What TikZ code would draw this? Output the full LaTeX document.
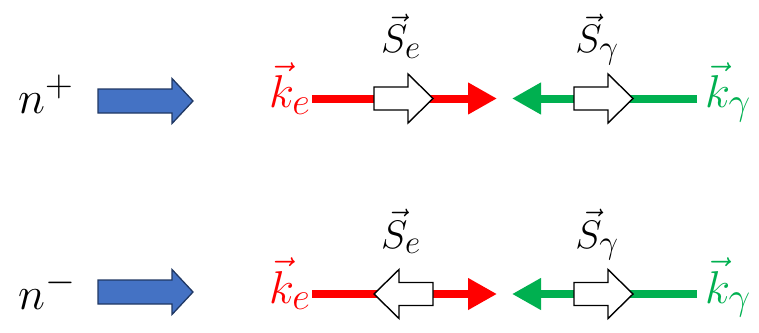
\documentclass[tikz,border=0pt]{standalone}
\usepackage{graphicx}
\usetikzlibrary{arrows.meta}
\definecolor{kred}{HTML}{FF0000}
\definecolor{kgreen}{HTML}{00B050}
\definecolor{nblue}{HTML}{4472C4}
\definecolor{nedge}{HTML}{203864}
\newcommand\smath[1]{\scalebox{1.6}{\Huge$#1$}}
\newcommand\kmath[1]{\scalebox{1.85}{\Huge$#1$}}
\newcommand\hugemath[1]{\scalebox{1.85}{\Huge$#1$}}
\begin{document}
\begin{tikzpicture}[x=1pt,y=-1pt,
  lbl/.style={inner sep=0pt},
  kline/.style={line width=8pt,-{Triangle[length=29pt,width=30pt]}},
  spin/.pic={\draw[line width=1.4pt,fill=white] (0,-11.5)--(34,-11.5)--(34,-24.5)--(59,0)--(34,24.5)--(34,11.5)--(0,11.5)--cycle;},
  bluearr/.pic={\draw[line width=1.3pt,draw=nedge,fill=nblue] (0,-12)--(74,-12)--(74,-22.5)--(95,0)--(74,22.5)--(74,12)--(0,12)--cycle;}
]
\useasboundingbox (0,0) rectangle (759,332);
\foreach \r/\yy/\by/\sg in {1/98.5/101/+,2/294/292/-}{
  \node[lbl,anchor=base west] (n\r) at (18,\yy+15) {\hugemath{n^{\sg}}};
  \pic at (98,\by) {bluearr};
  \node[lbl,text=kred,anchor=base east] (ke\r) at (311,\yy+9) {\kmath{\vec{k}_e}};
  \node[lbl,text=kgreen,anchor=base west] (kg\r) at (705,\yy+9) {\kmath{\vec{k}_\gamma}};
  \coordinate (re\r) at (497,\yy);
  \coordinate (ge\r) at (512,\yy);
  \draw[kline,kred] (312,\yy) -- (re\r);
  \draw[kline,kgreen] (697,\yy) -- (ge\r);
  \node[lbl,anchor=base] (se\r) at (401,\yy-46) {\smath{\vec{S}_e}};
  \node[lbl,anchor=base] (sg\r) at (597,\yy-46) {\smath{\vec{S}_\gamma}};
  \pic at (574,\yy) {spin};
}
\pic at (374,98.5) {spin};
\pic[xscale=-1] at (433,294) {spin};
\end{tikzpicture}
\end{document}
